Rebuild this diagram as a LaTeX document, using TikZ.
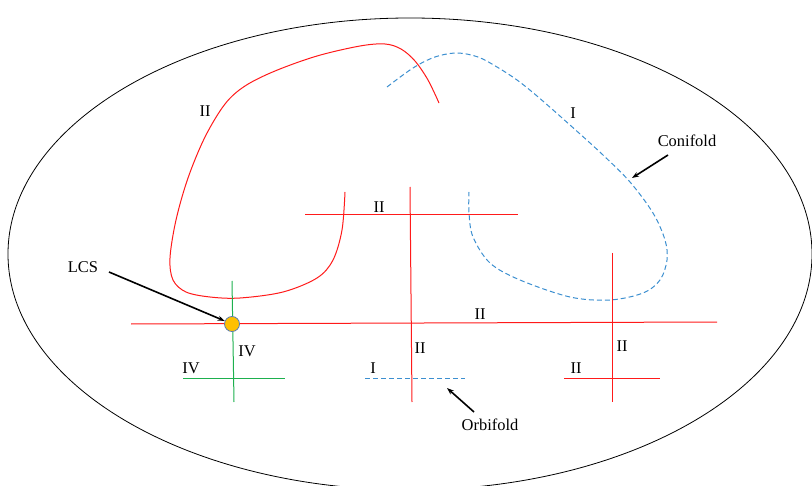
\documentclass[tikz,border=0pt]{standalone}
\usepackage{fontspec}
\setmainfont{Liberation Serif}
\usetikzlibrary{arrows.meta}
\definecolor{myred}{HTML}{FF1A1A}
\definecolor{myblue}{HTML}{3C8FD0}
\definecolor{mygreen}{HTML}{1DB04E}
\definecolor{myorange}{HTML}{FFC000}
\definecolor{myrim}{HTML}{5B7DB0}
\begin{document}
\begin{tikzpicture}[x=1bp,y=-1bp,
  redl/.style={draw=myred,line width=1bp},
  bluel/.style={draw=myblue,line width=1bp,dash pattern=on 5bp off 3bp},
  greenl/.style={draw=mygreen,line width=1bp},
  lbl/.style={font=\fontsize{16.5}{18}\selectfont,inner sep=0pt},
  pointer/.style={draw=black,line width=1.6bp,-{Stealth[length=7bp,width=5bp]}}]
\useasboundingbox (0,0) rectangle (812,486);
\begin{scope}
\clip (0,0) rectangle (812,486);
\draw[black,line width=0.8bp] (410,254) ellipse [x radius=402, y radius=236];
\end{scope}
% red loop
\draw[redl] plot[smooth,tension=0.55] coordinates {(439,103) (428,80) (415,61) (401,49) (385,44) (360,46) (317,56) (275,71) (245,86) (225,104) (205,137) (188,178) (176,220) (170,258) (173,280) (186,292) (210,297) (240,298) (283,292) (317,278) (333,260) (342,230) (345,192)};
% blue loop
\draw[bluel] plot[smooth,tension=0.55] coordinates {(387,87) (413,68) (435,57) (457,53) (478,57) (497,67) (517,80) (537,96) (570,125) (603,155) (630,182) (653,213) (665,240) (667,260) (660,280) (643,293) (610,300) (570,297) (520,280) (490,263) (473,237) (469,213) (469,192)};
% straight lines
\draw[redl] (305,215) -- (518,215);
\draw[redl] (410,187) -- (412,402);
\draw[redl] (131,324) -- (717,322);
\draw[redl] (612,253) -- (612,402);
\draw[redl] (564,378) -- (660,378);
\draw[greenl] (232,281) -- (234,402);
\draw[greenl] (183,378) -- (285,378);
\draw[bluel] (365,378) -- (465,378);
% LCS point
\node[circle,draw=myrim,fill=myorange,line width=0.8bp,minimum size=15bp,inner sep=0pt] (lcs) at (232,324) {};
% labels
\node[lbl] (l1) at (205,111) {II};
\node[lbl] (l2) at (573,113) {I};
\node[lbl] (l3) at (379,207) {II};
\node[lbl] (l4) at (480,314) {II};
\node[lbl] (l5) at (247,351) {IV};
\node[lbl] (l6) at (191,368) {IV};
\node[lbl] (l7) at (420,348) {II};
\node[lbl] (l8) at (373,368) {I};
\node[lbl] (l9) at (622,346) {II};
\node[lbl] (l10) at (576,368) {II};
\node[lbl] (lcslbl) at (83,267) {LCS};
\node[lbl] (coni) at (687,141) {Conifold};
\node[lbl] (orbi) at (490,425) {Orbifold};
\coordinate (conitip) at (632,178);
\coordinate (conistart) at (668,155);
\coordinate (orbitip) at (447,388);
\coordinate (orbistart) at (474,412);
\coordinate (lcsstart) at (109,272);
\draw[pointer] (conistart) -- (conitip);
\draw[pointer] (orbistart) -- (orbitip);
\draw[pointer] (lcsstart) -- (lcs);
\end{tikzpicture}
\end{document}
